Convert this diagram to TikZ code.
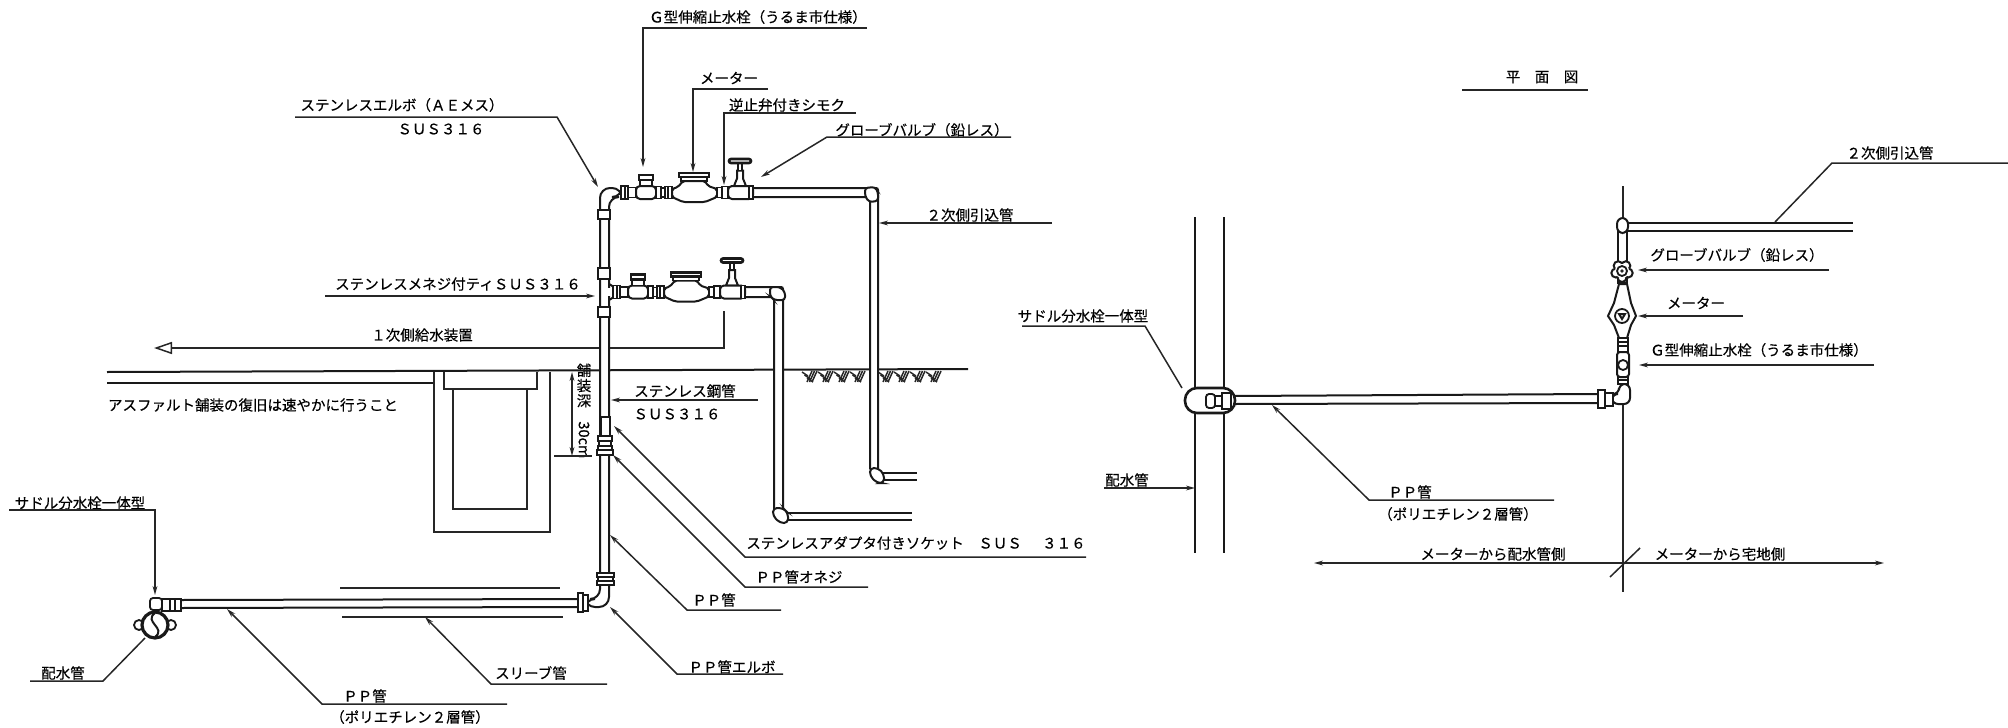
\documentclass[tikz,border=0pt]{standalone}
\usepackage{fontspec}
\setmainfont{Noto Sans CJK JP}[FakeBold=0.35,RawFeature=+fwid]
\newfontfamily\dimfont{Noto Sans CJK JP}[FakeBold=0.35]
\usetikzlibrary{arrows.meta}

\begin{document}
\begin{tikzpicture}[x=0.5pt, y=-0.5pt, >={Stealth[length=4.5pt,width=2.4pt]}]
% Definition of styles:
\tikzset{%
  txt/.style      = {inner sep=0pt, font=\fontsize{7.25}{8}\selectfont},
  lead/.style     = {line width=0.75pt, black!85},
  pipe/.style     = {line width=1pt, black!90},
  bodyfit/.style  = {line width=1pt, black!90, fill=white},
  fitbox/.style   = {line width=0.9pt, black!90, fill=white},
  thinline/.style = {line width=0.65pt, black!85},
  pics/meterrun/.style = {code={
    % unions before the stop cock
    \draw[fitbox] (-25,-6.5) rectangle (-21,6.5);
    \draw[fitbox] (-21,-6.5) rectangle (-18,6.5);
    \draw[fitbox] (-18,-5) rectangle (-10,5);
    % stop cock
    \draw[bodyfit, rounded corners=2pt] (-10,-6.5) rectangle (10,6.5);
    \draw[fitbox] (-6,-12.5) rectangle (6,-6.5);
    \draw[fitbox, line width=1.3pt] (-7,-17.5) rectangle (7,-12.5);
    \draw[fitbox] (10,-6) rectangle (15,6);
    \draw[fitbox] (15,-4.5) rectangle (19,4.5);
    \draw[fitbox] (19,-6) rectangle (22,6);
    \draw[fitbox] (22,-6) rectangle (26,6);
    % meter
    \draw[bodyfit, rounded corners=1pt] (26,-3.5) -- (32,-5.5) -- (37,-11.5) -- (59,-11.5) -- (62,-6.5)
      -- (71,-3.5) -- (71,4.5) -- (59,9.5) -- (37,9.5) -- (26,4.5) -- cycle;
    \draw[fitbox] (35,-15.5) rectangle (61,-11.5);
    \draw[fitbox, line width=1.3pt] (33,-19.5) rectangle (63,-15.5);
    \draw[fitbox] (71,-5) rectangle (76,5);
    \draw[fitbox] (76,-6) rectangle (82,6);
    % globe valve
    \draw[bodyfit] (88,-6.5) -- (91,-14) -- (91,-22) -- (97,-22) -- (97,-14) -- (100,-6.5) -- cycle;
    \draw[bodyfit, rounded corners=2pt] (82,-6.5) rectangle (107,6.5);
    \draw[fitbox] (103,-6.5) rectangle (107,6.5);
    \draw[fitbox] (92,-29.5) rectangle (96,-22);
    \draw[fitbox, line width=1.3pt, rounded corners=1pt] (83,-33.5) rectangle (105,-29.5);
  }}
}
\useasboundingbox (0,0) rectangle (2008,728);

% Labels of the section:
\draw
  node [txt] (tGL)   at (758,17)  {G型伸縮止水栓(うるま市仕様)}
  node [txt] (tMetL) at (729,78)  {メーター}
  node [txt] (tChk)  at (787,105) {逆止弁付きシモク}
  node [txt] (tGloL) at (922,130) {グローブバルブ(鉛レス)}
  node [txt] (tSecL) at (970,215) {2次側引込管}
  node [txt] (tElb)  at (402,105) {ステンレスエルボ(AEメス)}
  node [txt] (tElbS) at (441,129) {SUS316}
  node [txt] (tTee)  at (458,284) {ステンレスメネジ付ティSUS316}
  node [txt] (tPri)  at (422,335) {1次側給水装置}
  node [txt] (tAsp)  at (253,405) {アスファルト舗装の復旧は速やかに行うこと}
  node [txt] (tSus)  at (685,391) {ステンレス鋼管}
  node [txt] (tSusS) at (677,414) {SUS316}
  node [txt] (tAda)  at (916,543) {ステンレスアダプタ付きソケット\quad SUS\quad\hspace{0.4em}316}
  node [txt] (tMal)  at (799,577) {PP管オネジ}
  node [txt] (tPP)   at (714,600) {PP管}
  node [txt] (tPPE)  at (732,667) {PP管エルボ}
  node [txt] (tSlv)  at (531,673) {スリーブ管}
  node [txt] (tPPL)  at (365,696) {PP管}
  node [txt] (tPolL) at (410,717) {(ポリエチレン2層管)}
  node [txt] (tSadL) at (80,503)  {サドル分水栓一体型}
  node [txt] (tMainL) at (63,673) {配水管}
  node [txt, align=center, font=\dimfont\fontsize{7.25}{7.6}\selectfont] (tDep) at (584,411)
    {舗\\装\\深\\\rotatebox{-90}{30cm}};

% Labels of the plan:
\draw
  node [txt] (tPlan) at (1542,77)  {平\quad 面\quad 図}
  node [txt] (tSecR) at (1890,153) {2次側引込管}
  node [txt] (tGloR) at (1737,255) {グローブバルブ(鉛レス)}
  node [txt] (tMetR) at (1696,303) {メーター}
  node [txt] (tGR)   at (1759,350) {G型伸縮止水栓(うるま市仕様)}
  node [txt] (tSadR) at (1083,316) {サドル分水栓一体型}
  node [txt] (tMainR) at (1127,480) {配水管}
  node [txt] (tPPR)  at (1410,492) {PP管}
  node [txt] (tPolR) at (1458,514) {(ポリエチレン2層管)}
  node [txt] (tToMain) at (1493,554) {メーターから配水管側}
  node [txt] (tToHome) at (1720,554) {メーターから宅地側};

% Leader points:
\path (867,28) coordinate (g1) (643,28) coordinate (g2) (643,167) coordinate (g3);
\path (768,89) coordinate (m1) (693,89) coordinate (m2) (693,172) coordinate (m3);
\path (856,113) coordinate (c1) (724,113) coordinate (c2) (724,185) coordinate (c3);
\path (1011,137) coordinate (v1) (827,137) coordinate (v2) (761,177) coordinate (v3);
\path (1052,223) coordinate (s1) (879,223) coordinate (s2);
\path (295,117) coordinate (e1) (557,117) coordinate (e2) (598,187) coordinate (e3);
\path (325,296) coordinate (t1) (595,296) coordinate (t2);
\path (724,311) coordinate (p1) (724,348) coordinate (p2) (154,348) coordinate (p3);
\path (758,400) coordinate (u1) (611,400) coordinate (u2);
\path (1086,557) coordinate (a1) (745,557) coordinate (a2) (614,426) coordinate (a3);
\path (868,587) coordinate (o1) (745,587) coordinate (o2) (613,455) coordinate (o3);
\path (781,610) coordinate (q1) (687,610) coordinate (q2) (610,535) coordinate (q3);
\path (783,674) coordinate (r1) (677,674) coordinate (r2) (610,607) coordinate (r3);
\path (607,684) coordinate (w1) (491,684) coordinate (w2) (425,617) coordinate (w3);
\path (507,704) coordinate (x1) (322,704) coordinate (x2) (227,609) coordinate (x3);
\path (9,510) coordinate (z1) (155,510) coordinate (z2) (155,595) coordinate (z3);
\path (30,681) coordinate (h1) (103,681) coordinate (h2) (145,638) coordinate (h3);
\path (572,372) coordinate (d1) (572,456) coordinate (d2) (554,456) coordinate (d3) (592,456) coordinate (d4);
\path (340,588) coordinate (sa1) (560,588) coordinate (sa2) (342,617) coordinate (sb1) (563,617) coordinate (sb2);

\draw[lead,->] (g1) -- (g2) -- (g3);
\draw[lead,->] (m1) -- (m2) -- (m3);
\draw[lead,->] (c1) -- (c2) -- (c3);
\draw[lead,->] (v1) -- (v2) -- (v3);
\draw[lead,->] (s1) -- (s2);
\draw[lead,->] (e1) -- (e2) -- (e3);
\draw[lead,->] (t1) -- (t2);
\draw[lead,-{Triangle[open,length=9pt,width=6pt]}] (p1) -- (p2) -- (p3);
\draw[lead,->] (u1) -- (u2);
\draw[lead,->] (a1) -- (a2) -- (a3);
\draw[lead,->] (o1) -- (o2) -- (o3);
\draw[lead,->] (q1) -- (q2) -- (q3);
\draw[lead,->] (r1) -- (r2) -- (r3);
\draw[lead,->] (w1) -- (w2) -- (w3);
\draw[lead,->] (x1) -- (x2) -- (x3);
\draw[lead,->] (z1) -- (z2) -- (z3);
\draw[lead] (h1) -- (h2) -- (h3);
\draw[lead,<->] (d1) -- (d2);
\draw[lead] (d3) -- (d4);
\draw[lead] (sa1) -- (sa2);
\draw[lead] (sb1) -- (sb2);

% Road and trench:
\draw[pipe] (107,372) -- (968,369);
\draw[pipe] (107,383) -- (434,383);
\draw[thinline] (434,372) -- (434,532) -- (550,532) -- (550,372);
\draw[thinline] (444,372) -- (444,389) -- (537,389) -- (537,372);
\draw[thinline] (453,389) -- (453,509) -- (527,509) -- (527,389);
\foreach \x in {802,818,834,850,878,894,910,926}
  \foreach \d in {0,2.5,5} {
    \draw[lead] (\x+\d,372+\d*1.2) -- (\x+\d+6,376+\d*1.2);
    \draw[lead] (\x+\d+5,382) -- (\x+\d+10,371);
  };

% Pipes of the section:
\draw[bodyfit, rounded corners=5pt] (622,188) -- (600,188) -- (600,599) -- (585,599) -- (585,607)
  -- (609,607) -- (609,197) -- (622,197) -- cycle;
\draw[pipe] (181,600) -- (579,599) (181,608) -- (579,607);
\draw[bodyfit, rounded corners=1pt] (753,188) -- (878,188) -- (878,470) -- (870,470) -- (870,197) -- (753,197);
\draw[bodyfit, rounded corners=1pt] (745,287) -- (783,287) -- (783,510) -- (774,510) -- (774,297) -- (745,297);
\draw[pipe] (880,473) -- (917,473) (880,480) -- (917,480);
\draw[pipe] (785,513) -- (912,513) (785,520) -- (912,520);
\fill[white] (607,288) rectangle (615,296);
\draw[pipe] (609,284) -- (614,287) (609,300) -- (614,297);
\foreach \xa/\ya/\xb/\yb in {598/210/610/219, 598/268/610/279, 598/307/610/317, 601/417/610/436,
    598/436/612/441, 599/441/611/446, 598/446/612/450, 597/450/613/455,
    597/573/614/577, 598/577/613/581, 597/581/614/585, 578/593/583/612, 583/595/588/611}
  \draw[fitbox] (\xa,\ya) rectangle (\xb,\yb);
\draw[bodyfit, rounded corners=1.5pt] (865,188) -- (875,187) -- (878,192) -- (878,201) -- (869,202) -- (865,196) -- cycle;
\draw[bodyfit, rounded corners=1.5pt] (770,287) -- (780,287) -- (785,292) -- (785,300) -- (774,300) -- (770,296) -- cycle;
\draw[bodyfit, rounded corners=2pt] (870,468) -- (878,468) -- (884,474) -- (884,483) -- (877,483) -- (870,476) -- cycle;
\draw[bodyfit, rounded corners=2pt] (773,508) -- (783,508) -- (788,513) -- (788,523) -- (780,523) -- (773,516) -- cycle;
\pic at (646,192.5) {meterrun};
\pic at (638,292) {meterrun};

% Saddle of the section:
\draw[fitbox] (139,625) circle [radius=5];
\draw[fitbox] (171,625) circle [radius=5];
\draw[fitbox, line width=1.6pt] (155,625) circle [radius=13];
\draw[pipe] (155,613) .. controls (143,622) and (167,628) .. (155,637);
\draw[fitbox, rounded corners=1.5pt] (150,598) rectangle (162,610);
\foreach \xa/\xb in {162/170, 170/175, 175/181}
  \draw[fitbox] (\xa,599) rectangle (\xb,611);

% Pipes of the plan:
\draw[pipe] (1195,217) -- (1195,553) (1224,217) -- (1224,553);
\draw[thinline] (1623,186) -- (1623,592);
\path (1104,488) coordinate (n1) (1195,488) coordinate (n2);
\draw[lead,->] (n1) -- (n2);
\fill[white] (1618,218) rectangle (1628,404);
\draw[pipe] (1628,223) -- (1853,223) (1628,231) -- (1853,231);
\draw[bodyfit] (1618,228) rectangle (1627,283);
\draw[bodyfit, rounded corners=3pt] (1617,218) -- (1628,218) -- (1628,233) -- (1617,233) -- cycle;
\draw[pipe] (1235,396) -- (1598,394) (1235,404) -- (1598,403);
\foreach \a in {90,162,234,306,18}
  \draw[fitbox, line width=1pt] (1622,271) ++(\a:6.5) circle [radius=4.5];
\fill[white] (1622,271) circle [radius=7];
\draw[fitbox] (1622,271) circle [radius=5];
\fill[black!85] (1622,271) circle [radius=1.8];
\draw[bodyfit] (1619,284) -- (1627,284) -- (1631,303) -- (1636,316) -- (1631,325) -- (1627,338)
  -- (1619,338) -- (1614,325) -- (1608,316) -- (1614,303) -- cycle;
\draw[fitbox] (1622,316) circle [radius=7];
\draw[pipe] (1619,314) -- (1625,314) -- (1622,319) -- cycle;
\foreach \ya/\yb in {338/342, 342/346, 346/352, 377/380, 380/384}
  \draw[fitbox] (1618,\ya) rectangle (1628,\yb);
\draw[bodyfit, rounded corners=1.5pt] (1617,352) rectangle (1629,377);
\draw[fitbox] (1623,365) circle [radius=5];
\draw[bodyfit, rounded corners=3pt] (1619,384) -- (1630,384) -- (1630,404) -- (1612,404) -- (1612,394) -- (1619,394) -- cycle;
\draw[fitbox] (1598,390) rectangle (1605,408);
\draw[fitbox] (1605,393) rectangle (1613,406);

% Saddle of the plan:
\draw[bodyfit, rounded corners=6pt, line width=1.3pt] (1185,388) rectangle (1235,413);
\draw[fitbox, rounded corners=1.5pt] (1206,394) rectangle (1215,408);
\draw[fitbox] (1215,396) rectangle (1222,406);
\draw[fitbox] (1222,393) rectangle (1231,409);

% Leaders of the plan:
\path (2008,163) coordinate (b1) (1832,163) coordinate (b2) (1775,222) coordinate (b3);
\path (1829,270) coordinate (i1) (1638,270) coordinate (i2);
\path (1743,316) coordinate (j1) (1638,316) coordinate (j2);
\path (1874,365) coordinate (k1) (1639,365) coordinate (k2);
\path (1022,326) coordinate (l1) (1145,326) coordinate (l2) (1182,388) coordinate (l3);
\path (1554,500) coordinate (y1) (1369,500) coordinate (y2) (1272,405) coordinate (y3);
\path (1314,563) coordinate (f1) (1884,563) coordinate (f2);
\path (1640,548) coordinate (f3) (1610,577) coordinate (f4);
\path (1462,90) coordinate (f5) (1588,90) coordinate (f6);
\draw[lead] (b1) -- (b2) -- (b3);
\draw[lead,->] (i1) -- (i2);
\draw[lead,->] (j1) -- (j2);
\draw[lead,->] (k1) -- (k2);
\draw[lead] (l1) -- (l2) -- (l3);
\draw[lead,->] (y1) -- (y2) -- (y3);
\draw[lead,<->] (f1) -- (f2);
\draw[lead] (f3) -- (f4);
\draw[lead] (f5) -- (f6);
\end{tikzpicture}
\end{document}
